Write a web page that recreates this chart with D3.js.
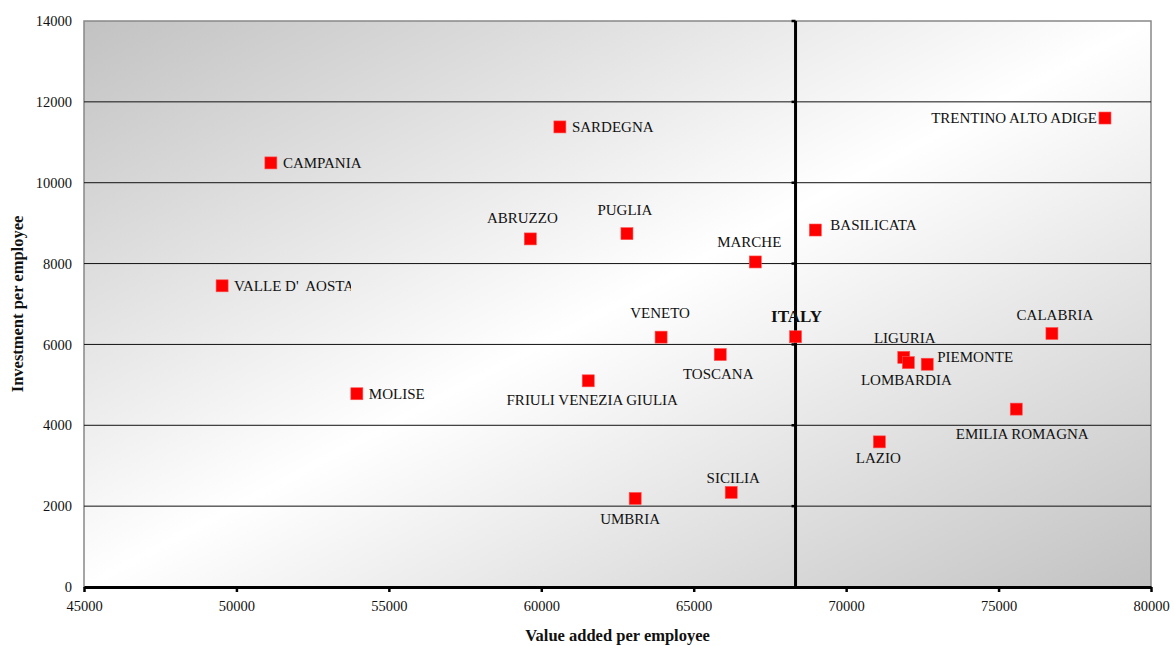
<!DOCTYPE html>
<html>
<head>
<meta charset="utf-8">
<script src="https://cdn.jsdelivr.net/npm/d3@7"></script>
<style>
  body { margin: 0; background: #fff; }
  text { font-family: "Liberation Serif", "DejaVu Serif", serif; fill: #111; }
</style>
</head>
<body>
<div id="chart"></div>
<script>
// regions, value added per employee (x) and investment per employee (y)
var regions = ["CAMPANIA", "SARDEGNA", "TRENTINO ALTO ADIGE", "ABRUZZO", "PUGLIA", "MARCHE",
  "BASILICATA", "VALLE D'  AOSTA", "VENETO", "ITALY", "TOSCANA", "FRIULI VENEZIA GIULIA", "MOLISE",
  "LIGURIA", "LOMBARDIA", "PIEMONTE", "CALABRIA", "EMILIA ROMAGNA", "LAZIO", "SICILIA", "UMBRIA"];
var valueAdded = [51130, 60610, 78490, 59640, 62810, 67020,
  68990, 49530, 63930, 68340, 65870, 61540, 53950,
  71890, 72040, 72660, 76750, 75580, 71090, 66230, 63080];
var investment = [10490, 11380, 11600, 8610, 8740, 8040,
  8830, 7450, 6180, 6190, 5750, 5100, 4780,
  5680, 5550, 5510, 6270, 4400, 3590, 2340, 2190];

var xTicks = [45000, 50000, 55000, 60000, 65000, 70000, 75000, 80000];
var yTicks = [0, 2000, 4000, 6000, 8000, 10000, 12000, 14000];
var italyValue = 68340;

// label placement: [dx, dy, anchor]
var labelPos = {
  "CAMPANIA": [12, 0, "start"], "SARDEGNA": [12, 0, "start"], "TRENTINO ALTO ADIGE": [-8, 0, "end"],
  "ABRUZZO": [-8, -21, "middle"], "PUGLIA": [-2, -24, "middle"], "MARCHE": [-6, -20, "middle"],
  "BASILICATA": [15, -5, "start"], "VALLE D'  AOSTA": [12, 0, "start"], "VENETO": [-1, -24, "middle"],
  "ITALY": [1, -21, "middle"], "TOSCANA": [-2, 19, "middle"], "FRIULI VENEZIA GIULIA": [4, 19, "middle"],
  "MOLISE": [12, 0, "start"], "LIGURIA": [1, -20, "middle"], "LOMBARDIA": [-2, 17, "middle"],
  "PIEMONTE": [10, -7, "start"], "CALABRIA": [3, -19, "middle"], "EMILIA ROMAGNA": [6, 25, "middle"],
  "LAZIO": [-1, 16, "middle"], "SICILIA": [2, -15, "middle"], "UMBRIA": [-5, 20, "middle"]
};

var W = 1174, H = 646;
var margin = {left: 84, top: 21, right: 23, bottom: 59};
var pw = W - margin.left - margin.right, ph = H - margin.top - margin.bottom;

var svg = d3.select("#chart").append("svg").attr("width", W).attr("height", H);
var defs = svg.append("defs");
var grad = defs.append("linearGradient").attr("id", "bg")
  .attr("x1", 0).attr("y1", 0).attr("x2", 1).attr("y2", 1);
grad.append("stop").attr("offset", 0).attr("stop-color", "#c2c2c2");
grad.append("stop").attr("offset", 0.5).attr("stop-color", "#ffffff");
grad.append("stop").attr("offset", 1).attr("stop-color", "#c2c2c2");

defs.append("clipPath").attr("id", "valleClip").append("rect")
  .attr("x", 0).attr("y", 0).attr("width", 351).attr("height", H);

var x = d3.scaleLinear().domain([45000, 80000]).range([0, pw]);
var y = d3.scaleLinear().domain([0, 14000]).range([ph, 0]);

var g = svg.append("g").attr("transform", "translate(" + margin.left + "," + margin.top + ")");

g.append("rect").attr("width", pw).attr("height", ph)
  .attr("fill", "url(#bg)").attr("stroke", "#888").attr("stroke-width", 1.5);

// horizontal gridlines
g.selectAll("line.grid").data(yTicks.filter(function(d){ return d > 0 && d < 14000; }))
  .enter().append("line").attr("class", "grid")
  .attr("x1", 0).attr("x2", pw)
  .attr("y1", function(d){ return y(d); }).attr("y2", function(d){ return y(d); })
  .attr("stroke", "#111").attr("stroke-width", 1);

// y axis labels
var yAxis = g.append("g").call(d3.axisLeft(y).tickValues(yTicks).tickFormat(d3.format("d")).tickSize(0).tickPadding(12));
yAxis.select(".domain").remove();
yAxis.selectAll("text").attr("font-size", 14.5);

// x axis
var xAxis = g.append("g").attr("transform", "translate(0," + ph + ")")
  .call(d3.axisBottom(x).tickValues(xTicks).tickFormat(d3.format("d")).tickSize(5).tickPadding(9).tickSizeOuter(0));
xAxis.select(".domain").attr("stroke", "#000").attr("stroke-width", 3);
xAxis.selectAll(".tick line").attr("stroke", "#000").attr("stroke-width", 2.5);
xAxis.selectAll("text").attr("font-size", 14.5);

// vertical axis crossing at Italy
var vx = x(italyValue);
g.append("line").attr("x1", vx).attr("x2", vx).attr("y1", 0).attr("y2", ph)
  .attr("stroke", "#000").attr("stroke-width", 3);
g.selectAll("line.vtick").data(yTicks.filter(function(d){ return d > 0; }))
  .enter().append("line").attr("class", "vtick")
  .attr("x1", vx - 4).attr("x2", vx)
  .attr("y1", function(d){ return y(d); }).attr("y2", function(d){ return y(d); })
  .attr("stroke", "#000").attr("stroke-width", 2.5);

// points
var data = regions.map(function(r, i){ return {name: r, x: valueAdded[i], y: investment[i]}; });
var s = 12;
g.selectAll("rect.pt").data(data).enter().append("rect").attr("class", "pt")
  .attr("x", function(d){ return x(d.x) - s/2; })
  .attr("y", function(d){ return y(d.y) - s/2; })
  .attr("width", s).attr("height", s)
  .attr("fill", "#ff0000").attr("stroke", "#ff5050").attr("stroke-width", 0.6);

// labels
svg.append("g").selectAll("text.lab").data(data).enter().append("text").attr("class", "lab")
  .attr("x", function(d){ return margin.left + x(d.x) + labelPos[d.name][0]; })
  .attr("y", function(d){ return margin.top + y(d.y) + labelPos[d.name][1]; })
  .attr("dy", "0.35em")
  .attr("text-anchor", function(d){ return labelPos[d.name][2]; })
  .attr("font-size", function(d){ return d.name == "ITALY" ? 17 : 15; })
  .attr("font-weight", function(d){ return d.name == "ITALY" ? "bold" : "normal"; })
  .attr("clip-path", function(d){ return d.name == "VALLE D'  AOSTA" ? "url(#valleClip)" : null; })
  .style("white-space", "pre")
  .text(function(d){ return d.name; });

// axis titles
svg.append("text").attr("x", margin.left + pw/2).attr("y", 641)
  .attr("text-anchor", "middle").attr("font-size", 16.5).attr("font-weight", "bold")
  .text("Value added per employee");
svg.append("text").attr("transform", "translate(23," + (margin.top + ph/2) + ") rotate(-90)")
  .attr("text-anchor", "middle").attr("font-size", 16.5).attr("font-weight", "bold")
  .text("Investment per employee");
</script>
</body>
</html>
